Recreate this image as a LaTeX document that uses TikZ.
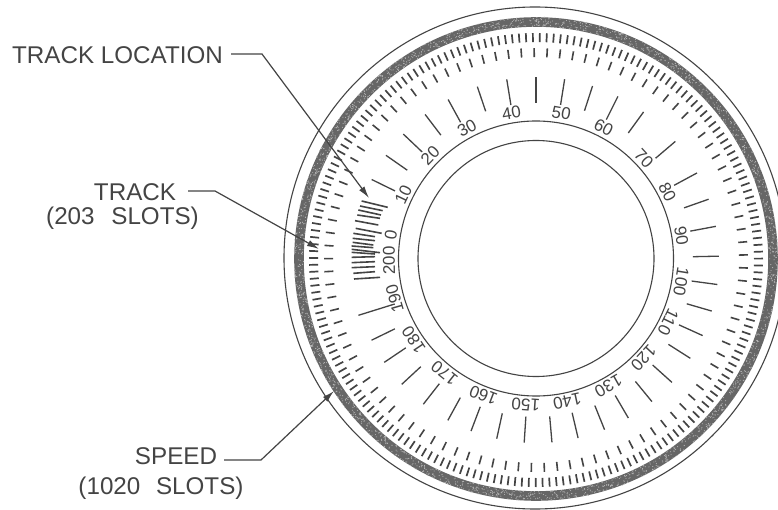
\documentclass[tikz,border=0pt]{standalone}
\usepackage{fontspec}
\setmainfont{Liberation Sans}
\usetikzlibrary{arrows.meta}
\definecolor{ink}{HTML}{444444}
\definecolor{bandgray}{HTML}{666666}
\definecolor{pale}{HTML}{B8B8B8}
\tikzset{
  ringline/.style={draw=ink,line width=1.1pt},
  longtick/.style={draw=ink,line width=1.3pt},
  medtick/.style={draw=ink,line width=1.6pt},
  outtick/.style={draw=ink,line width=1.7pt},
  slotline/.style={draw=ink,line width=1.6pt},
  leader/.style={draw=ink,line width=1.2pt},
  calltext/.style={font=\fontsize{24.2}{26}\selectfont,text=ink,inner sep=0pt},
  scalenum/.style={font=\fontsize{17}{17}\selectfont,text=ink,inner sep=0pt},
  tip/.style={-{Latex[length=12pt,width=6.5pt]}}
}
\begin{document}
\begin{tikzpicture}[x=1pt,y=-1pt]
\useasboundingbox (0,0) rectangle (778,510);
\clip (0,0) rectangle (778,510);
\fill[white] (0,0) rectangle (778,510);
% rings
\draw[ringline] (535,258) circle[radius=251];
\draw[draw=bandgray,line width=9.6pt] (536,259) circle[radius=237];
\pgfmathsetseed{7}
\foreach \i in {1,...,2200}{
  \pgfmathsetmacro{\aa}{rnd*360}
  \pgfmathsetmacro{\rr}{232.5+rnd*9.5}
  \fill[pale] ({536+\rr*cos(\aa)},{259-\rr*sin(\aa)}) circle[radius=0.55];
}
\draw[ringline] (536,258.5) circle[radius=137.5];
\draw[ringline] (536,258.5) circle[radius=118];
% outer slots: 203
\foreach \k in {0,...,202}{
  \pgfmathsetmacro{\aa}{90.8-\k*1.77340}
  \draw[outtick] ({536+218*cos(\aa)},{260-218*sin(\aa)}) -- ({536+227*cos(\aa)},{260-227*sin(\aa)});
}
% middle slots
\foreach \k in {0,...,100}{
  \pgfmathsetmacro{\aa}{90.5-\k*3.56436}
  \draw[medtick] ({536+203*cos(\aa)},{260-203*sin(\aa)}) -- ({536+212*cos(\aa)},{260-212*sin(\aa)});
}
% long ticks
\foreach \aa in {153.9,145.1,136.5,127.3,118.7,108.7,99.2,90,81,72,63.4,54,40.4,28.4,19.4,10.6,1.2,-7.7,-16.2,-24.4,-32.5,-42,-50.7,-59.7,-68,-76.7,-85,-93.7,-102.4,-110.8,-118.8,-128,-137.2,-146,-154}{
  \draw[longtick] ({536+157*cos(\aa)},{260-157*sin(\aa)}) -- ({536+183*cos(\aa)},{260-183*sin(\aa)});
}
\draw[longtick] ({536+148*cos(-162.7)},{260-148*sin(-162.7)}) -- ({536+186*cos(-162.7)},{260-186*sin(-162.7)});
% track location stack
\foreach \xa/\ya/\xb/\yb in {185/93/263/112,180/108/248/122,175/120/243/135,172/135/240/145,165/152/235/165,167/175/245/190,160/190/225/200,158/205/225/212,158/217/220/225,155/228/220/233,155/238/240/248,155/247/225/252,155/262/225/260,155/278/225/275,155/293/225/290,160/310/225/305,162/327/240/322}{
  \draw[slotline] ({300+\xa/3},{170+\ya/3}) -- ({300+\xb/3},{170+\yb/3});
}
% scale numbers
\foreach \t/\aa in {0/171,10/154.5,20/136,30/118,40/99.6,50/80.1,60/62.6,70/42.8,80/26.6,90/8.6,100/-9.3,110/-25.9,120/-43,130/-60.5,140/-77.7,150/-94,160/-111,170/-128.5,180/-146.3,190/-164,200/181}{
  \pgfmathsetmacro{\rot}{\aa-90}
  \node[scalenum,rotate=\rot] (n\t) at ({536+147*cos(\aa)},{258-147*sin(\aa)}) {\t};
}
% callouts
\node[calltext] (tl) at (117.5,55.5) {TRACK LOCATION};
\node[calltext] (tr) at (135,192) {TRACK};
\node[calltext] (trs) at (122.5,218) {(203\hspace{10pt} SLOTS)};
\node[calltext] (sp) at (176,456) {SPEED};
\node[calltext] (sps) at (161,488) {(1020\hspace{9pt} SLOTS)};
\coordinate (tla) at (231,54);
\coordinate (tlb) at (262,54);
\coordinate (tlc) at (369,198);
\coordinate (tra) at (188,191);
\coordinate (trb) at (215,191);
\coordinate (trc) at (319,249);
\coordinate (spa) at (224,460);
\coordinate (spb) at (261,460);
\coordinate (spc) at (334,391);
\draw[leader,tip] (tla) -- (tlb) -- (tlc);
\draw[leader,tip] (tra) -- (trb) -- (trc);
\draw[leader,tip] (spa) -- (spb) -- (spc);
\end{tikzpicture}
\end{document}
